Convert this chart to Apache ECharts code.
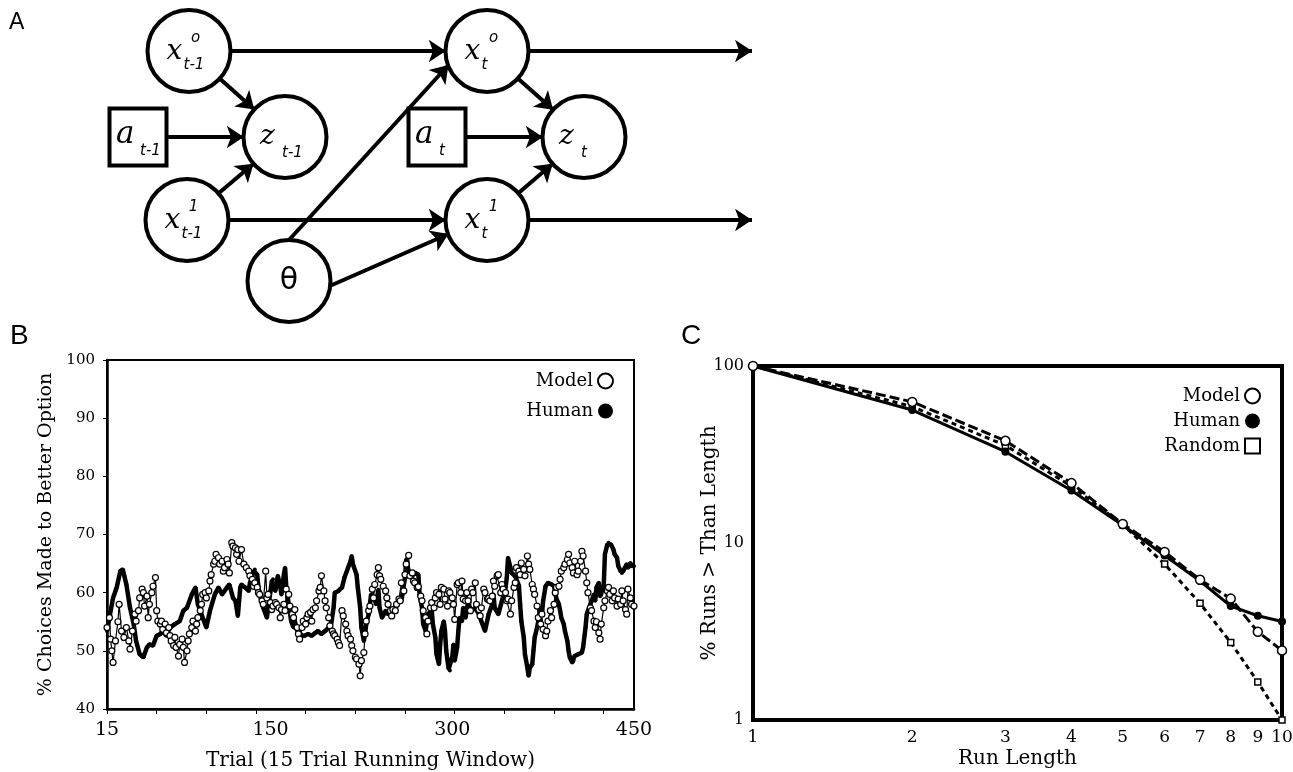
<!DOCTYPE html>
<html>
<head>
<meta charset="utf-8">
<script src="https://cdn.jsdelivr.net/npm/echarts@6/dist/echarts.min.js"></script>
<style>
html,body{margin:0;padding:0;background:#fff;}
#main{width:1293px;height:772px;}
</style>
</head>
<body>
<div id="main"></div>
<script>
// ---------------- Panel B data: 15-trial running window ----------------
const modelTrial = [15,17,18,19,20,22,24,25,27,29,31,33,34,36,38,39,41,42,44,45,46,48,49,50,52,53,55,56,57,59,60,61,63,64,66,67,68,70,71,72,74,75,77,78,79,81,82,83,85,86,88,89,90,92,93,94,96,97,99,100,101,103,104,105,107,108,110,111,112,114,115,116,118,119,121,122,123,124,126,128,130,132,133,135,136,137,139,140,141,143,144,146,147,148,150,151,152,154,155,157,158,159,161,162,163,165,166,168,169,170,172,173,174,176,177,179,180,181,183,184,185,187,188,190,191,192,194,195,196,198,199,201,202,203,205,206,207,209,210,212,213,214,216,217,218,220,221,223,224,225,227,228,229,231,232,234,235,236,238,239,240,241,243,245,246,247,249,250,251,253,254,256,257,258,260,261,262,264,265,267,268,269,271,272,274,275,276,278,279,280,282,283,285,286,287,289,290,291,293,294,296,297,298,300,301,302,304,305,307,308,309,311,312,313,315,316,317,319,320,322,323,324,326,327,329,330,331,333,334,335,337,338,340,341,342,344,345,346,348,349,351,352,353,355,356,357,359,360,362,363,364,366,367,368,370,371,373,374,375,377,378,379,381,382,384,385,386,388,389,390,392,393,395,396,397,399,400,401,403,404,406,407,408,410,411,412,414,415,417,418,419,421,422,423,425,426,428,429,430,432,433,434,436,437,439,440,441,443,444,445,447,448,450];
const modelPct = [54.0,55.7,52.0,50.0,48.0,51.7,55.0,58.0,53.4,52.3,54.0,51.7,50.3,53.4,56.3,55.1,56.9,59.1,60.6,60.0,57.7,59.4,55.7,58.0,60.0,61.1,62.6,56.9,55.1,54.6,55.1,53.7,54.6,53.1,54.0,52.6,51.7,50.9,52.3,50.6,49.1,51.1,52.0,50.6,48.0,50.0,51.7,52.9,54.0,55.1,53.4,54.6,55.7,56.9,58.0,59.7,60.0,59.1,60.3,62.0,63.1,64.9,65.4,66.6,66.0,64.9,65.4,63.7,64.3,65.7,64.9,63.4,68.6,68.0,67.7,66.6,67.4,65.4,67.4,64.9,64.3,63.7,62.9,62.3,61.1,61.7,60.9,60.0,59.7,58.6,58.0,63.7,59.1,59.7,58.3,57.1,57.7,58.3,58.0,57.4,55.7,57.1,58.0,56.9,60.6,59.7,57.7,56.3,55.7,57.1,54.0,52.9,52.0,54.0,55.1,54.6,55.7,56.3,56.6,55.1,57.1,57.4,58.6,60.3,60.9,62.9,60.3,58.6,57.4,55.7,54.3,53.4,52.9,52.6,52.0,51.4,50.9,56.9,56.0,54.6,53.4,52.6,52.0,50.9,50.0,48.9,48.6,47.7,45.7,48.3,49.7,52.9,55.1,56.9,57.7,60.6,59.1,61.4,63.1,64.3,62.9,62.3,61.1,60.3,59.1,58.0,56.9,56.0,57.1,56.9,58.0,58.9,58.6,61.7,60.3,63.1,64.9,66.4,62.9,63.4,62.0,61.7,60.9,61.0,59.4,58.6,56.9,55.7,52.9,55.1,57.4,58.3,57.4,59.1,60.0,59.7,58.0,60.9,60.6,58.9,57.7,60.3,60.0,59.1,58.0,55.4,61.4,61.7,60.0,62.0,58.9,58.6,60.0,58.6,56.9,60.6,60.0,61.7,58.0,57.1,56.0,57.4,60.6,60.0,58.9,59.0,58.6,59.4,62.0,61.1,62.9,63.1,60.0,61.4,60.6,60.0,58.6,58.9,56.3,58.6,60.9,61.7,64.3,63.7,63.1,65.1,64.0,62.9,66.3,64.9,64.0,61.4,60.6,59.7,57.7,55.7,54.6,56.3,53.7,52.6,53.4,55.1,56.9,55.7,58.0,60.0,60.9,61.1,62.3,63.7,64.3,64.9,65.7,66.6,65.1,64.3,63.4,65.4,63.1,63.7,65.4,67.1,66.3,63.7,61.7,60.0,57.4,56.9,55.1,54.0,55.0,53.1,52.0,54.6,57.4,58.6,60.3,60.9,59.7,58.6,60.3,59.1,57.7,58.9,58.0,60.3,58.6,57.1,56.3,60.6,59.1,58.0,57.7];
const humanTrial = [15,17,20,23,26,28,31,34,37,39,42,45,48,50,53,56,59,61,64,67,71,75,78,81,85,88,90,94,97,100,104,107,110,114,116,119,121,123,125,126,129,132,133,134,136,137,139,140,141,144,147,148,150,151,152,154,155,156,158,159,161,162,163,165,166,167,169,170,172,173,174,176,178,181,184,187,189,192,195,198,200,202,203,206,209,211,214,216,217,218,221,222,224,225,227,228,229,231,232,233,236,237,239,240,242,245,247,250,253,256,258,261,262,264,267,269,272,273,275,276,278,279,280,283,284,286,287,289,290,291,293,294,295,297,298,300,301,302,304,305,306,308,309,311,312,313,316,319,322,324,327,330,333,334,335,338,341,344,345,346,348,349,352,355,356,357,359,360,362,363,364,366,367,368,370,371,373,374,375,377,378,379,382,384,385,386,388,389,390,392,393,395,396,397,399,400,401,404,407,408,410,411,412,414,415,417,418,419,421,422,423,425,426,428,429,431,433,434,436,437,439,440,441,444,445,447,448,450];
const humanPct = [53.4,55.7,59.1,60.9,63.7,64.0,61.4,57.4,54.6,51.7,49.4,48.9,50.6,51.1,50.9,52.6,52.9,53.4,52.6,54.0,54.6,55.1,56.9,57.4,59.7,60.9,58.0,55.7,54.0,56.9,59.7,60.9,59.7,60.9,61.4,59.1,58.6,56.0,60.9,61.4,60.9,60.3,61.7,62.3,63.7,64.0,63.1,60.9,59.7,57.4,55.7,57.4,60.3,62.0,62.3,60.3,61.7,62.9,61.1,59.7,63.1,64.3,60.9,58.0,56.6,55.1,54.0,55.1,53.4,54.0,53.1,52.6,52.6,52.9,52.6,53.1,53.4,52.9,53.4,54.0,54.6,57.4,60.0,60.3,60.9,62.6,64.3,65.4,66.3,64.9,63.1,60.9,57.4,54.0,51.7,52.9,54.6,56.3,58.0,59.7,59.0,58.0,60.5,57.4,55.7,56.9,56.3,56.9,57.4,58.6,58.6,62.6,65.7,63.7,62.9,63.4,63.1,59.7,57.4,54.6,53.4,55.1,56.3,56.9,54.6,52.3,49.4,47.7,51.1,53.4,55.1,53.4,50.0,46.9,46.6,48.9,51.1,48.3,50.6,53.4,55.7,55.1,57.4,55.7,57.4,58.0,56.9,57.4,56.3,55.1,53.4,56.3,58.0,59.7,57.4,56.3,58.6,60.9,62.6,66.0,64.3,63.4,62.8,61.2,58.0,55.1,52.3,49.4,47.1,45.7,47.1,47.7,50.0,52.3,54.0,55.1,57.4,56.3,58.6,61.1,61.4,61.7,61.4,61.1,60.0,58.9,58.0,56.9,55.7,54.6,53.4,51.7,50.0,48.9,48.0,48.3,49.1,49.4,49.7,50.6,54.0,56.3,56.9,58.0,58.6,59.7,58.6,60.9,61.7,59.4,59.7,61.1,66.6,68.3,68.6,68.3,67.4,66.6,66.0,64.6,63.7,63.4,63.7,64.9,64.3,65.1,64.6,64.6];
const trialTickValues = [15,56,97,138,179,220,261,302,343,384,425];
const trialLabelValues = [15,150,300,450];

// ---------------- Panel C data: run-length distribution ----------------
const runLength = [1,2,3,4,5,6,7,8,9,10];
const runModel  = [100,62.7,37.8,21.8,12.8,8.9,6.2,4.85,3.15,2.47];
const runHuman  = [100,56.4,32.8,19.8,12.6,8.5,6.1,4.4,3.88,3.6];
const runRandom = [100,59.0,35.6,20.9,12.7,7.6,4.56,2.74,1.64,1.0];
const runLabelValues = [1,2,3,4,5,6,7,8,9,10];

// ---------------- Panel A: graphical model (schematic layout units) ----------------
const NODE_R = 41;
const diagramNodes = [
  {id:'xo_prev', pos:[189,51],  kind:'circle', main:'x', sup:'o', sub:'t-1'},
  {id:'z_prev',  pos:[285,137], kind:'circle', main:'z', sub:'t-1'},
  {id:'a_prev',  pos:[138,137], kind:'box',    main:'a', sub:'t-1'},
  {id:'x1_prev', pos:[187,220], kind:'circle', main:'x', sup:'1', sub:'t-1'},
  {id:'theta',   pos:[289,281], kind:'circle', main:'θ'},
  {id:'xo_t',    pos:[487,51],  kind:'circle', main:'x', sup:'o', sub:'t'},
  {id:'a_t',     pos:[437,137], kind:'box',    main:'a', sub:'t'},
  {id:'z_t',     pos:[584,137], kind:'circle', main:'z', sub:'t'},
  {id:'x1_t',    pos:[487,220], kind:'circle', main:'x', sup:'1', sub:'t'},
  {id:'out_o',   pos:[752,51],  kind:'end'},
  {id:'out_1',   pos:[752,220], kind:'end'}
];
// [source, target, sourcePortAngleDeg, targetPortAngleDeg] (ports are points on the node circle)
const diagramEdges = [
  ['xo_prev','xo_t'],['xo_prev','z_prev'],['a_prev','z_prev'],['x1_prev','z_prev'],
  ['x1_prev','x1_t'],['theta','xo_t',-90,160],['theta','x1_t',7,160],
  ['xo_t','z_t'],['a_t','z_t'],['x1_t','z_t'],['xo_t','out_o'],['x1_t','out_1']
];

const SERIF = "'DejaVu Serif', serif";
const SANS = "'DejaVu Sans', sans-serif";

function nodeLabel(n) {
  if (n.kind === 'end' || n.kind === 'port') return '';
  if (n.main === 'θ') return '{th|θ}';
  if (n.sup) return '{pad|}{sup|' + n.sup + '}\n{m|' + n.main + '}{sub|' + n.sub + '}';
  return '{' + (n.main === 'a' ? 'ma' : 'm') + '|' + n.main + '}{subg|' + n.sub + '}';
}

const nodeById = {};
diagramNodes.forEach(n => { nodeById[n.id] = n; });
const allNodes = diagramNodes.slice();
const graphLinks = [];
diagramEdges.forEach((e, i) => {
  let s = e[0], t = e[1];
  if (e[2] != null) {
    const c = nodeById[s].pos, a = e[2] * Math.PI / 180;
    s = 'port_s' + i;
    allNodes.push({id:s, pos:[c[0] + NODE_R*Math.cos(a), c[1] + NODE_R*Math.sin(a)], kind:'port'});
  }
  if (e[3] != null) {
    const c = nodeById[t].pos, a = e[3] * Math.PI / 180;
    t = 'port_t' + i;
    allNodes.push({id:t, pos:[c[0] + NODE_R*Math.cos(a), c[1] + NODE_R*Math.sin(a)], kind:'port'});
  }
  graphLinks.push({source:s, target:t});
});

const graphData = allNodes.map(n => {
  const hidden = (n.kind === 'end' || n.kind === 'port');
  return {
    name: n.id,
    value: n.pos,
    symbol: n.kind === 'box' ? 'rect' : 'circle',
    symbolSize: n.kind === 'box' ? [57,57] : (hidden ? 0.01 : [83,82]),
    itemStyle: hidden ? {opacity:0} : {},
    label: {show: !hidden, formatter: nodeLabel(n),
      offset: n.kind === 'box' ? [2,-2] : (n.main === 'θ' ? [0,0] : [-2,0])}
  };
});

const chart = echarts.init(document.getElementById('main'), null, {renderer:'canvas'});

const option = {
  animation: false,
  backgroundColor: '#fff',
  textStyle: {fontFamily: SERIF, color:'#000'},
  graphic: [
    {type:'text', left:9, top:11, style:{text:'A', font:"23px 'Liberation Sans', sans-serif", fill:'#000'}},
    {type:'text', left:10, top:322, style:{text:'B', font:"28px 'Liberation Sans', sans-serif", fill:'#000'}},
    {type:'text', left:681, top:322, style:{text:'C', font:"28px 'Liberation Sans', sans-serif", fill:'#000'}}
  ],
  grid: [
    {left:0, top:0, width:1293, height:330, show:false, outerBoundsMode:'none'},
    {left:107, top:360, width:527, height:349, show:true, borderColor:'#000', borderWidth:2, backgroundColor:'#fff', outerBoundsMode:'none'},
    {left:753, top:366, width:529, height:354, show:true, borderColor:'#000', borderWidth:4, backgroundColor:'#fff', outerBoundsMode:'none'}
  ],
  xAxis: [
    {gridIndex:0, type:'value', min:0, max:1293, show:false},
    {gridIndex:1, type:'value', min:15, max:450,
      axisLine:{show:true, onZero:false, lineStyle:{color:'#000', width:2.5}},
      axisTick:{show:true, customValues: trialTickValues, length:5, lineStyle:{color:'#000', width:1}},
      axisLabel:{customValues: trialLabelValues, fontSize:19, fontFamily:SERIF, color:'#000', margin:12},
      splitLine:{show:false},
      name:'Trial (15 Trial Running Window)', nameLocation:'middle', nameGap:42, nameMoveOverlap:false,
      nameTextStyle:{fontSize:20, fontFamily:SERIF, color:'#000'}},
    {gridIndex:2, type:'log', logBase:10, min:1, max:10,
      axisLine:{show:true, onZero:false, lineStyle:{color:'#000', width:4}},
      axisTick:{show:false},
      axisLabel:{customValues: runLabelValues, fontSize:17, fontFamily:SERIF, color:'#000', margin:9},
      splitLine:{show:false}, minorTick:{show:false}, minorSplitLine:{show:false},
      name:'Run Length', nameLocation:'middle', nameGap:29, nameMoveOverlap:false,
      nameTextStyle:{fontSize:20, fontFamily:SERIF, color:'#000'}}
  ],
  yAxis: [
    {gridIndex:0, type:'value', min:0, max:330, inverse:true, show:false},
    {gridIndex:1, type:'value', min:40, max:100, interval:10,
      axisLine:{show:true, onZero:false, lineStyle:{color:'#000', width:2.5}},
      axisTick:{show:true, length:4, lineStyle:{color:'#000', width:1}},
      axisLabel:{fontSize:15, fontFamily:SERIF, color:'#000', margin:12},
      splitLine:{show:false},
      name:'% Choices Made to Better Option', nameLocation:'middle', nameGap:51, nameMoveOverlap:false,
      nameTextStyle:{fontSize:19, fontFamily:SERIF, color:'#000'}},
    {gridIndex:2, type:'log', logBase:10, min:1, max:100,
      axisLine:{show:true, onZero:false, lineStyle:{color:'#000', width:4}},
      axisTick:{show:false},
      axisLabel:{fontSize:16, fontFamily:SERIF, color:'#000', margin:9},
      splitLine:{show:false}, minorTick:{show:false}, minorSplitLine:{show:false},
      name:'% Runs > Than Length', nameLocation:'middle', nameGap:33, nameMoveOverlap:false,
      nameTextStyle:{fontSize:20, fontFamily:SERIF, color:'#000'}}
  ],
  legend: [
    {orient:'vertical', align:'right', right:674, top:367, itemGap:12, itemWidth:15, itemHeight:15,
      selectedMode:false, textStyle:{fontSize:18, fontFamily:SERIF, color:'#000'},
      data:[
        {name:'Model', icon:'circle', itemStyle:{color:'#fff', borderColor:'#000', borderWidth:2}},
        {name:'Human', icon:'circle', itemStyle:{color:'#000', borderColor:'#000', borderWidth:0}}
      ]},
    {orient:'vertical', align:'right', right:27, top:382, itemGap:7, itemWidth:15, itemHeight:15,
      selectedMode:false, textStyle:{fontSize:18, fontFamily:SERIF, color:'#000'},
      data:[
        {name:'Model', icon:'circle', itemStyle:{color:'#fff', borderColor:'#000', borderWidth:2}},
        {name:'Human', icon:'circle', itemStyle:{color:'#000', borderColor:'#000', borderWidth:0}},
        {name:'Random', icon:'rect', itemStyle:{color:'#fff', borderColor:'#000', borderWidth:2}}
      ]}
  ],
  series: [
    {
      type:'graph', coordinateSystem:'cartesian2d', xAxisIndex:0, yAxisIndex:0,
      silent:true, emphasis:{disabled:true},
      data: graphData, links: graphLinks,
      edgeSymbol:['none','arrow'], edgeSymbolSize:[0,17],
      itemStyle:{color:'#fff', borderColor:'#000', borderWidth:4},
      lineStyle:{color:'#000', width:4, opacity:1, curveness:0},
      label:{show:true, position:'inside', color:'#000',
        rich:{
          m:{fontSize:28, fontFamily:SERIF, fontStyle:'italic', width:17, align:'left', lineHeight:26},
          ma:{fontSize:31, fontFamily:SERIF, fontStyle:'italic', width:19, align:'left', lineHeight:26},
          sup:{fontSize:15, fontFamily:SANS, fontStyle:'italic', width:24, align:'left', lineHeight:1},
          pad:{width:17, lineHeight:1},
          sub:{fontSize:15, fontFamily:SANS, fontStyle:'italic', width:24, align:'left', lineHeight:1, verticalAlign:'top', padding:[19,0,0,0]},
          subg:{fontSize:15, fontFamily:SANS, fontStyle:'italic', width:24, align:'left', lineHeight:1, verticalAlign:'top', padding:[22,0,0,5]},
          th:{fontSize:30, fontFamily:SANS}
        }}
    },
    {
      name:'Human', type:'line', xAxisIndex:1, yAxisIndex:1, z:2,
      data: humanTrial.map((t,i) => [t, humanPct[i]]),
      symbol:'circle', symbolSize:4, showSymbol:true,
      lineStyle:{color:'#000', width:4.5}, itemStyle:{color:'#000'}
    },
    {
      name:'Model', type:'line', xAxisIndex:1, yAxisIndex:1, z:3,
      data: modelTrial.map((t,i) => [t, modelPct[i]]),
      symbol:'circle', symbolSize:6, showSymbol:true,
      lineStyle:{color:'#000', width:1.2},
      itemStyle:{color:'#fff', borderColor:'#000', borderWidth:1.2}
    },
    {
      name:'Random', type:'line', xAxisIndex:2, yAxisIndex:2, z:2,
      data: runLength.map((r,i) => [r, runRandom[i]]),
      symbol:'rect', symbolSize:6,
      lineStyle:{color:'#000', width:3, type:[5,4]},
      itemStyle:{color:'#fff', borderColor:'#000', borderWidth:1.5}
    },
    {
      name:'Human', type:'line', xAxisIndex:2, yAxisIndex:2, z:3,
      data: runLength.map((r,i) => [r, runHuman[i]]),
      symbol:'circle', symbolSize:8,
      lineStyle:{color:'#000', width:3},
      itemStyle:{color:'#000'}
    },
    {
      name:'Model', type:'line', xAxisIndex:2, yAxisIndex:2, z:4,
      data: runLength.map((r,i) => [r, runModel[i]]),
      symbol:'circle', symbolSize:9,
      lineStyle:{color:'#000', width:3, type:[10,4]},
      itemStyle:{color:'#fff', borderColor:'#000', borderWidth:1.5}
    }
  ]
};
chart.setOption(option);
</script>
</body>
</html>
